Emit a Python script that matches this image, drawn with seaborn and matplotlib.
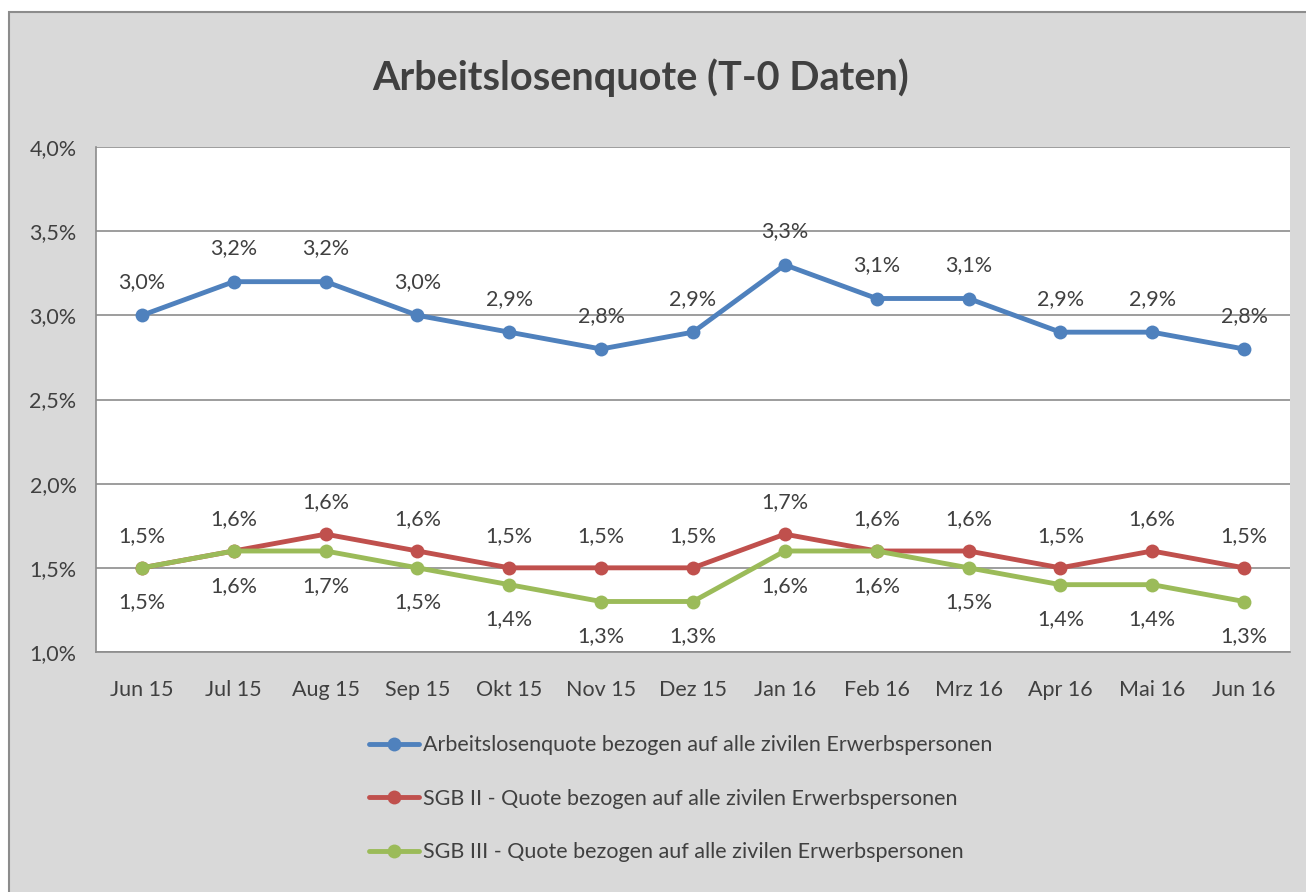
import pandas as pd
import seaborn as sns
import matplotlib.pyplot as plt
from matplotlib.patches import Rectangle

# Data
months = ['Jun 15', 'Jul 15', 'Aug 15', 'Sep 15', 'Okt 15', 'Nov 15', 'Dez 15',
          'Jan 16', 'Feb 16', 'Mrz 16', 'Apr 16', 'Mai 16', 'Jun 16']
quote_all = [3.0, 3.2, 3.2, 3.0, 2.9, 2.8, 2.9, 3.3, 3.1, 3.1, 2.9, 2.9, 2.8]
quote_sgb2 = [1.5, 1.6, 1.7, 1.6, 1.5, 1.5, 1.5, 1.7, 1.6, 1.6, 1.5, 1.6, 1.5]
quote_sgb3 = [1.5, 1.6, 1.6, 1.5, 1.4, 1.3, 1.3, 1.6, 1.6, 1.5, 1.4, 1.4, 1.3]
# the data labels as printed in the chart (they do not always match the points)
labels_all = ['3,0%', '3,2%', '3,2%', '3,0%', '2,9%', '2,8%', '2,9%', '3,3%', '3,1%', '3,1%', '2,9%', '2,9%', '2,8%']
labels_sgb2 = ['1,5%', '1,6%', '1,6%', '1,6%', '1,5%', '1,5%', '1,5%', '1,7%', '1,6%', '1,6%', '1,5%', '1,6%', '1,5%']
labels_sgb3 = ['1,5%', '1,6%', '1,7%', '1,5%', '1,4%', '1,3%', '1,3%', '1,6%', '1,6%', '1,5%', '1,4%', '1,4%', '1,3%']
series_names = ['Arbeitslosenquote bezogen auf alle zivilen Erwerbspersonen',
                'SGB II - Quote bezogen auf alle zivilen Erwerbspersonen',
                'SGB III - Quote bezogen auf alle zivilen Erwerbspersonen']
y_ticks = [1.0, 1.5, 2.0, 2.5, 3.0, 3.5, 4.0]

colors = ['#4F81BD', '#C0504D', '#9BBB59']
bg = '#D9D9D9'
txt = '#404040'
fs = 15.5

rows = []
for name, vals in zip(series_names, [quote_all, quote_sgb2, quote_sgb3]):
    for m, v in zip(months, vals):
        rows.append({'Monat': m, 'Quote': v, 'Reihe': name})
df = pd.DataFrame(rows)

sns.set_style('white')
plt.rcParams['font.family'] = ['Lato', 'DejaVu Sans']

fig = plt.figure(figsize=(13.06, 8.92), dpi=100)
fig.patch.set_facecolor('white')
fig.patches.append(Rectangle((9 / 1306, -0.01), 1.0, 1 - 12 / 892 + 0.01, transform=fig.transFigure,
                             facecolor=bg, edgecolor='#8c8c8c', linewidth=1.5, zorder=-10))

ax = fig.add_axes([96 / 1306, 1 - 652 / 892, (1290 - 96) / 1306, (652 - 147) / 892])
ax.set_facecolor('white')

sns.lineplot(data=df, x='Monat', y='Quote', hue='Reihe', hue_order=series_names,
             palette=colors, marker='o', markersize=10, markeredgewidth=0,
             linewidth=3.5, ax=ax, sort=False, legend=False)

# data labels
for i in range(len(months)):
    ax.annotate(labels_all[i], (i, quote_all[i]), xytext=(0, 24), textcoords='offset points',
                ha='center', va='center', fontsize=fs, color=txt)
    ax.annotate(labels_sgb2[i], (i, quote_sgb2[i]), xytext=(0, 23), textcoords='offset points',
                ha='center', va='center', fontsize=fs, color=txt)
    ax.annotate(labels_sgb3[i], (i, quote_sgb3[i]), xytext=(0, -25), textcoords='offset points',
                ha='center', va='center', fontsize=fs, color=txt)

ax.set_xlim(-0.5, len(months) - 0.5)
ax.set_ylim(1.0, 4.0)
ax.set_yticks(y_ticks)
ax.set_yticklabels([f'{t:.1f}%'.replace('.', ',') for t in y_ticks], fontsize=fs, color=txt)
ax.set_xticks(range(len(months)))
ax.set_xticklabels(months, fontsize=fs, color=txt)
ax.set_xticks([i - 0.5 for i in range(len(months) + 1)], minor=True)
ax.tick_params(axis='x', which='major', length=0, pad=20)
ax.tick_params(axis='x', which='minor', length=10, width=1.2, color='#8c8c8c', direction='out')
ax.tick_params(axis='y', length=10, width=1.2, color='#8c8c8c', direction='out', pad=4)
ax.yaxis.grid(True, color='#8c8c8c', linewidth=1.2)
ax.set_axisbelow(True)
ax.set_xlabel('')
ax.set_ylabel('')
for s in ['top', 'right']:
    ax.spines[s].set_visible(False)
for s in ['left', 'bottom']:
    ax.spines[s].set_color('#8c8c8c')
    ax.spines[s].set_linewidth(1.2)

fig.text(641 / 1306, 1 - 78 / 892, 'Arbeitslosenquote (T-0 Daten)', ha='center', va='center',
         fontsize=28.5, fontweight='bold', color=txt)

handles = [plt.Line2D([], [], color=c, linewidth=3.5, marker='o', markersize=10, markeredgewidth=0)
           for c in colors]
fig.legend(handles, series_names, loc='upper left', bbox_to_anchor=(350 / 1306, 1 - 716 / 892),
           frameon=False, fontsize=fs, labelcolor=txt, handlelength=2.3, handletextpad=0.2,
           labelspacing=1.55)

fig.savefig('out.png', dpi=100)
plt.close(fig)
